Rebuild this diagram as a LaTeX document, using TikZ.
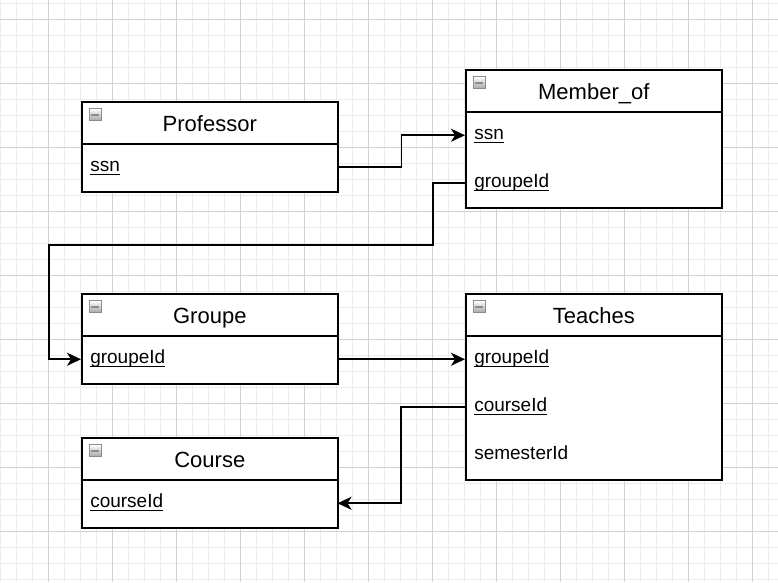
\documentclass[tikz,border=0pt]{standalone}
\usepackage{fontspec}
\setmainfont{Liberation Sans}
\usetikzlibrary{arrows.meta}
\definecolor{gridmajor}{HTML}{D2D2D2}
\definecolor{gridminor}{HTML}{EDEDED}
\definecolor{iconedge}{HTML}{8C8C8C}
\newcommand\keyul[1]{\setbox0\hbox{#1}\rlap{\vrule height -1.3pt depth 2.4pt width \wd0}\box0}
\tikzset{
  boxline/.style={draw=black, line width=1.2pt, fill=white},
  hdr/.style={boxline, anchor=north west, minimum width=192pt, minimum height=31.5pt,
    inner sep=0pt, font=\fontsize{16.5pt}{19pt}\selectfont, text height=15.75pt, text depth=3pt},
  body/.style={boxline, anchor=north west, minimum width=192pt, inner sep=0pt},
  row/.style={anchor=north west, minimum width=192pt, minimum height=36pt, inner ysep=0pt,
    inner xsep=6.75pt, text width=178.5pt, align=left,
    font=\fontsize{14.25pt}{17pt}\selectfont, text height=9.75pt, text depth=3pt},
  icon/.style={anchor=north west, draw=iconedge, line width=0.5pt, minimum size=9pt, inner sep=0pt,
    top color=white, bottom color=black!35, xshift=6pt, yshift=-5.5pt,
    path picture={\draw[line width=1.5pt] ([xshift=1.5pt]path picture bounding box.west) -- ([xshift=-1.5pt]path picture bounding box.east);}},
  conn/.style={draw=black, line width=1.2pt, -{Stealth[length=10.5pt,width=9.75pt,inset=3pt]}},
  gmin/.style={draw=gridminor, line width=0.75pt},
  gmaj/.style={draw=gridmajor, line width=0.75pt}
}
\begin{document}
\begin{tikzpicture}[x=0.75pt,y=-0.75pt]
\useasboundingbox (0,0) rectangle (778,582);
\fill[white] (0,0) rectangle (778,582);
% grid
\foreach \i in {0,...,48} { \draw[gmin] (\i*16,0) -- (\i*16,582); }
\foreach \j in {0,...,36} { \draw[gmin] (0,3+\j*16) -- (778,3+\j*16); }
\foreach \i in {0,...,11} { \draw[gmaj] (48+\i*64,0) -- (48+\i*64,582); }
\foreach \j in {0,...,8} { \draw[gmaj] (0,19+\j*64) -- (778,19+\j*64); }

% Professor
\node[hdr] (profH) at (81,101) {Professor};
\node[icon] (profI) at (profH.north west) {};
\node[body, minimum height=36pt] (profB) at (81,143) {};
\node[row] (profSsn) at (81,143) {\keyul{ssn}};

% Member_of
\node[hdr] (memH) at (465,69) {Member\_of};
\node[icon] (memI) at (memH.north west) {};
\node[body, minimum height=72pt] (memB) at (465,111) {};
\node[row] (memSsn) at (465,111) {\keyul{ssn}};
\node[row] (memGrp) at (465,159) {\keyul{groupeId}};

% Groupe
\node[hdr] (grpH) at (81,293) {Groupe};
\node[icon] (grpI) at (grpH.north west) {};
\node[body, minimum height=36pt] (grpB) at (81,335) {};
\node[row] (grpGrp) at (81,335) {\keyul{groupeId}};

% Teaches
\node[hdr] (teaH) at (465,293) {Teaches};
\node[icon] (teaI) at (teaH.north west) {};
\node[body, minimum height=108pt] (teaB) at (465,335) {};
\node[row] (teaGrp) at (465,335) {\keyul{groupeId}};
\node[row] (teaCrs) at (465,383) {\keyul{courseId}};
\node[row] (teaSem) at (465,431) {semesterId};

% Course
\node[hdr] (crsH) at (81,437) {Course};
\node[icon] (crsI) at (crsH.north west) {};
\node[body, minimum height=36pt] (crsB) at (81,479) {};
\node[row] (crsCrs) at (81,479) {\keyul{courseId}};

% connectors
\draw[conn] (profSsn.east) -- ++(64,0) |- (memSsn.west);
\draw[conn] (memGrp.west) -- ++(-32,0) -- ++(0,62) -| ([xshift=-24pt]grpGrp.west) -- (grpGrp.west);
\draw[conn] (grpGrp.east) -- (teaGrp.west);
\draw[conn] (teaCrs.west) -- ++(-64,0) |- (crsCrs.east);
\end{tikzpicture}
\end{document}
